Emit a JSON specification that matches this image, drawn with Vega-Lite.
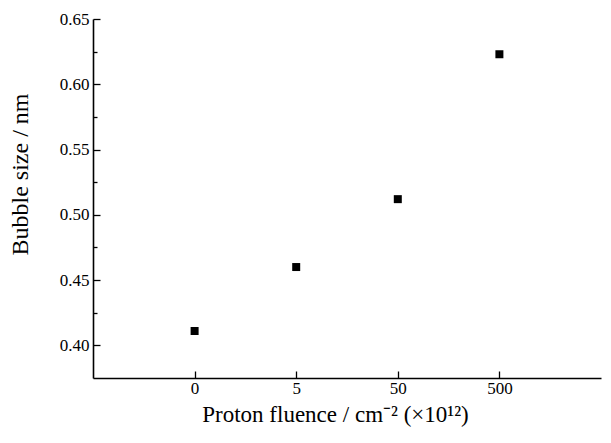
{
  "$schema": "https://vega.github.io/schema/vega-lite/v6.json",
  "autosize": {"type": "none"},
  "width": 508,
  "height": 359,
  "padding": {"left": 93, "top": 19, "right": 10, "bottom": 65},
  "background": "white",
  "config": {
    "view": {"stroke": null},
    "axis": {"grid": false, "domainColor": "black", "tickColor": "black", "labelColor": "black", "titleColor": "black", "labelFont": "Liberation Serif", "titleFont": "Liberation Serif", "titleFontWeight": "normal", "domainWidth": 1.6, "tickWidth": 1.3}
  },
  "data": {"values": [
    {"fluence": "0", "size": 0.411},
    {"fluence": "5", "size": 0.460},
    {"fluence": "50", "size": 0.512},
    {"fluence": "500", "size": 0.623}
  ]},
  "layer": [
    {
      "mark": {"type": "point", "shape": "square", "filled": true, "color": "black", "size": 64, "opacity": 1},
      "encoding": {
        "x": {"field": "fluence", "type": "ordinal", "sort": ["0", "5", "50", "500"], "scale": {"type": "point", "padding": 1},
          "axis": {"title": "Proton fluence / cm⁻² (×10¹²)", "labelAngle": 0, "tickSize": -7, "labelPadding": 9, "labelFontSize": 17, "titleFontSize": 23, "titlePadding": 7, "titleX": 242}},
        "y": {"field": "size", "type": "quantitative", "scale": {"domain": [0.375, 0.65], "nice": false, "zero": false},
          "axis": {"title": "Bubble size  / nm", "values": [0.40, 0.45, 0.50, 0.55, 0.60, 0.65], "format": ".2f", "tickSize": -7, "labelPadding": 11, "labelFontSize": 17, "titleFontSize": 24, "titleX": -61, "titleY": 155, "titleBaseline": "bottom", "titleAngle": -90}}
      }
    },
    {
      "mark": {"type": "point", "opacity": 0},
      "encoding": {
        "x": {"field": "fluence", "type": "ordinal", "sort": ["0", "5", "50", "500"]},
        "y": {"field": "size", "type": "quantitative",
          "axis": {"orient": "left", "title": null, "values": [0.425, 0.475, 0.525, 0.575, 0.625], "labels": false, "domain": false, "tickSize": -4}}
      }
    }
  ],
  "resolve": {"axis": {"y": "independent"}}
}
